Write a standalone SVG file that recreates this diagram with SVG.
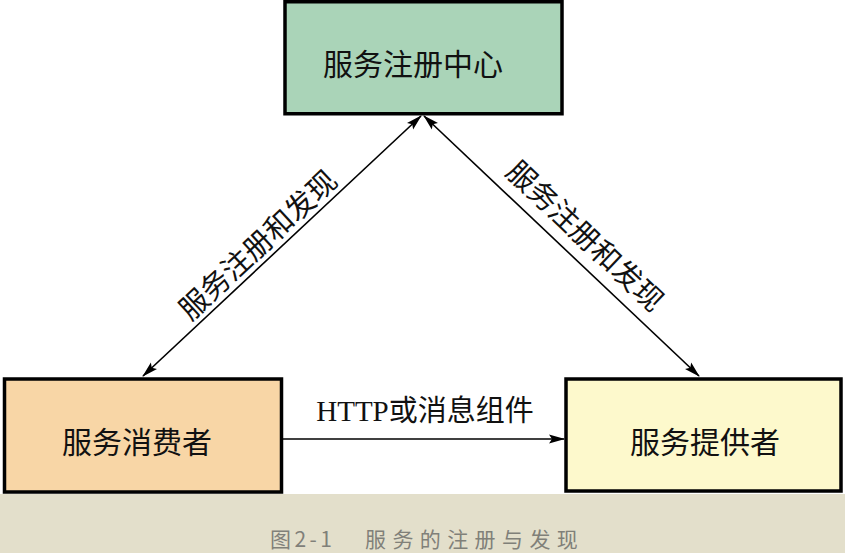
<svg xmlns="http://www.w3.org/2000/svg" width="845" height="553" viewBox="0 0 845 553">
<style>
.box{stroke:#000;stroke-width:3.5}
.lbl{font-family:"Noto Sans CJK SC","Noto Sans",sans-serif;font-size:30px;fill:#111;text-anchor:middle;dominant-baseline:central}
.edge{stroke:#000;stroke-width:1.6;fill:none}
.elbl{font-family:"Liberation Serif","Noto Sans CJK SC",serif;font-size:29px;fill:#111;text-anchor:middle;dominant-baseline:central}
.dlbl{font-family:"Noto Sans CJK SC","Noto Sans",sans-serif;font-size:29px;fill:#111;text-anchor:middle;dominant-baseline:central}
.cap{font-family:"Noto Sans CJK SC","Noto Sans",sans-serif;font-size:21px;fill:#808079}
</style>
<defs>
<marker id="ah" viewBox="0 0 16 10" refX="15" refY="5" markerWidth="17" markerHeight="10" markerUnits="userSpaceOnUse" orient="auto-start-reverse">
<path d="M0,0.5 L16,5 L0,9.5 L3,5 Z" fill="#000"/>
</marker>
</defs>
<rect x="0" y="0" width="845" height="494" fill="#fff"/>
<rect x="0" y="494" width="845" height="59" fill="#e3dfcb"/>
<g id="registry">
<rect class="box" x="285" y="1.75" width="277" height="112" fill="#aad4b8"/>
<text class="lbl" x="413" y="62">服务注册中心</text>
</g>
<g id="consumer">
<rect class="box" x="4.5" y="379" width="277" height="113" fill="#f8d6a6"/>
<text class="lbl" x="137" y="440">服务消费者</text>
</g>
<g id="provider">
<rect class="box" x="566" y="379" width="275" height="112" fill="#fdf9cc"/>
<text class="lbl" x="705" y="440">服务提供者</text>
</g>
<g id="connectors">
<line class="edge" x1="421" y1="116" x2="143" y2="376" marker-start="url(#ah)" marker-end="url(#ah)"/>
<line class="edge" x1="424" y1="116" x2="699" y2="376" marker-start="url(#ah)" marker-end="url(#ah)"/>
<line class="edge" x1="283" y1="439" x2="564" y2="439" marker-end="url(#ah)"/>
<text class="dlbl" transform="translate(256,243) rotate(-43)">服务注册和发现</text>
<text class="dlbl" transform="translate(587,234) rotate(43.4)">服务注册和发现</text>
<text class="elbl" x="425" y="411" font-size="30">HTTP或消息组件</text>
</g>
<text class="cap" x="270" y="547" textLength="62" lengthAdjust="spacing">图2-1</text>
<text class="cap" x="365" y="547" letter-spacing="6.4">服务的注册与发现</text>
</svg>
